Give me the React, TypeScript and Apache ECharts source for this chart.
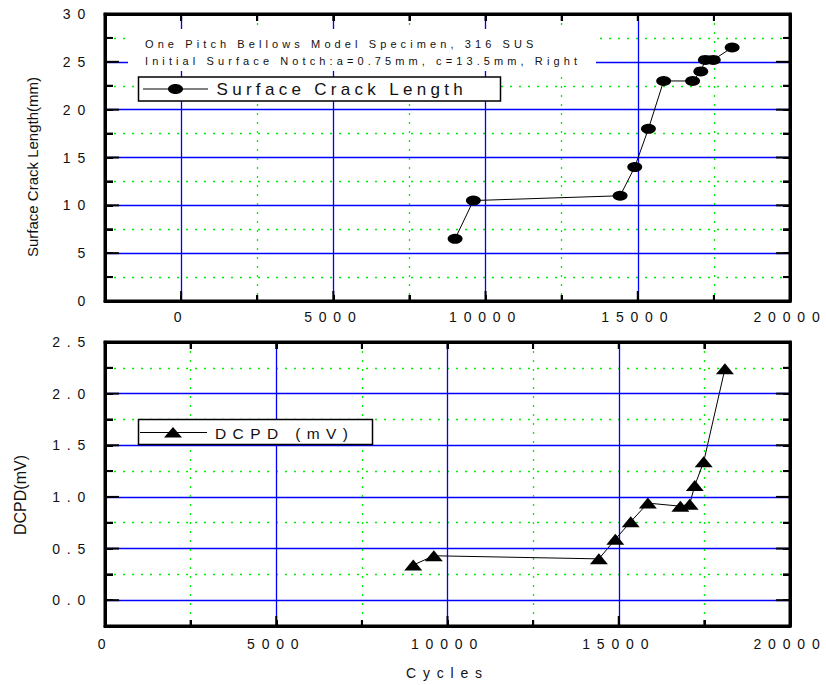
import React, { useEffect, useRef } from 'react';
import * as echarts from 'echarts';

// ---- data ----
const cycles = [9000, 9600, 14420, 14900, 15350, 15850, 16800, 17070, 17220, 17480, 18100];
const crackLength = [6.5, 10.5, 11.0, 14.0, 18.0, 23.0, 23.0, 24.0, 25.2, 25.2, 26.5];
const dcpd = [0.34, 0.43, 0.4, 0.59, 0.76, 0.94, 0.91, 0.93, 1.11, 1.34, 2.24];

// axis ranges / tick steps
const topXRange = [-2500, 20000];
const topYRange = [0, 30];
const botXRange = [0, 20000];
const botYRange = [-0.25, 2.5];
const xMinorStep = 2500;
const xMajorStep = 5000;
const topYMinorStep = 2.5;
const topYMajorStep = 5;
const botYMinorStep = 0.25;
const botYMajorStep = 0.5;

// texts
const annotationLines = [
  'One Pitch Bellows Model Specimen, 316 SUS',
  'Initial Surface Notch:a=0.75mm, c=13.5mm, Right',
];
const legendCrack = 'Surface Crack Length';
const legendDcpd = 'DCPD (mV)';
const yTitleTop = 'Surface Crack Length(mm)';
const yTitleBot = 'DCPD(mV)';
const xTitle = 'Cycles';

// ---- styling ----
const FONT = '"Liberation Sans", Arial, Helvetica, sans-serif';
const TXT = '#111';
const BLUE = '#0000ff';
const GREEN = '#00ee00';

const css = `
.lsbox text[style*="14px"] { letter-spacing: 6.8px; }
.lsbox text[style*="11px"] { letter-spacing: 4.1px; }
.lsbox text[style*="17px"] { letter-spacing: 4.3px; }
.lsbox text[style*="15.5px"] { letter-spacing: 6.4px; }
`;

const ticksOf = (min: number, max: number, step: number) => {
  const n = Math.round((max - min) / step);
  return Array.from({ length: n + 1 }, (_, i) => +(min + i * step).toFixed(6));
};
const isMult = (v: number, m: number) => Math.abs(v / m - Math.round(v / m)) < 1e-6;
const colorsFor = (ticks: number[], pred: (v: number) => boolean, color: string) =>
  ticks.map((v, i) => (i > 0 && i < ticks.length - 1 && pred(v) ? color : 'transparent'));

const tick = () => ({ color: '#000', width: 2 });
const frame = () => ({ show: true, onZero: false, lineStyle: { color: '#000', width: 3 } });

function buildAxes(
  dim: 'x' | 'y',
  range: number[],
  minor: number,
  major: number,
  label: any,
  name?: any
) {
  const ticks = ticksOf(range[0], range[1], minor);
  const pos = dim === 'x' ? ['bottom', 'top'] : ['left', 'right'];
  const base = { type: 'value', gridIndex: 0, min: range[0], max: range[1], interval: minor };
  return [
    {
      ...base,
      position: pos[0],
      ...(name || {}),
      axisLine: frame(),
      axisTick: { show: true, inside: true, length: dim === 'x' ? 6 : 8, lineStyle: tick() },
      axisLabel: label,
      splitLine: {
        show: true,
        lineStyle: { color: colorsFor(ticks, (v) => isMult(v, major), BLUE), width: 1.3 },
      },
    },
    {
      ...base,
      position: pos[1],
      axisLine: frame(),
      axisTick: { show: true, inside: true, length: 7, lineStyle: tick() },
      axisLabel: { show: false },
      splitLine: {
        show: true,
        lineStyle: { color: colorsFor(ticks, (v) => !isMult(v, major), GREEN), width: 1.3, type: [2, 7] },
      },
    },
  ];
}

const label = (margin: number, formatter: (v: number) => string) => ({
  color: TXT,
  fontSize: 14,
  fontFamily: FONT,
  margin,
  formatter,
});

const txt = (text: string, x: number, y: number, fontSize: number, extra: any = {}) => ({
  type: 'text',
  z: 11,
  x,
  y,
  ...(extra.rotation ? { rotation: extra.rotation } : {}),
  style: {
    text,
    fontSize,
    fontFamily: FONT,
    fill: TXT,
    align: extra.center ? 'center' : 'left',
    verticalAlign: 'middle',
    textAlign: extra.center ? 'center' : 'left',
    textVerticalAlign: 'middle',
  },
});

const lineSeries = (name: string, values: number[], symbol: string, size: number[]) => ({
  name,
  type: 'line',
  data: cycles.map((c, i) => [c, values[i]]),
  symbol,
  symbolSize: size,
  itemStyle: { color: '#000' },
  lineStyle: { color: '#000', width: 1 },
  z: 5,
});

// top chart: its own instance, page offset 0
const topGraphic: any[] = [
  { type: 'rect', z: 10, shape: { x: 128, y: 29, width: 468, height: 42 }, style: { fill: '#fff' } },
  txt(annotationLines[0], 145, 43.5, 11),
  txt(annotationLines[1], 145, 61, 11),
  {
    type: 'rect',
    z: 10,
    shape: { x: 138.5, y: 77, width: 362, height: 24 },
    style: { fill: '#fff', stroke: '#000', lineWidth: 1.5 },
  },
  { type: 'line', z: 11, shape: { x1: 143, y1: 89, x2: 208, y2: 89 }, style: { stroke: '#000', lineWidth: 1 } },
  { type: 'ellipse', z: 12, shape: { cx: 175.5, cy: 89, rx: 7.5, ry: 5 }, style: { fill: '#000' } },
  txt(legendCrack, 216.5, 89, 17),
  txt(yTitleTop, 32, 167, 15, { rotation: Math.PI / 2, center: true }),
];
const topOption: any = {
  animation: false,
  backgroundColor: '#fff',
  grid: [{ show: false, left: 105, width: 685, top: 14, height: 287 }],
  xAxis: buildAxes('x', topXRange, xMinorStep, xMajorStep,
    label(9, (v) => (v >= 0 && isMult(v, xMajorStep) ? String(v) : ''))),
  yAxis: buildAxes('y', topYRange, topYMinorStep, topYMajorStep,
    label(13, (v) => (isMult(v, topYMajorStep) ? String(v) : ''))),
  series: [lineSeries(legendCrack, crackLength, 'circle', [15, 10])],
  graphic: topGraphic,
};
const topSpec = { xr: topXRange, yr: topYRange, xs: xMinorStep, xm: xMajorStep, ys: topYMinorStep, ym: topYMajorStep };

// bottom chart: its own instance, page offset 330
const botGraphic: any[] = [
  {
    type: 'rect',
    z: 10,
    shape: { x: 138.5, y: 89.5, width: 234, height: 25 },
    style: { fill: '#fff', stroke: '#000', lineWidth: 1.5 },
  },
  { type: 'line', z: 11, shape: { x1: 140, y1: 102.5, x2: 207, y2: 102.5 }, style: { stroke: '#000', lineWidth: 1 } },
  { type: 'polygon', z: 12, shape: { points: [[164, 107.5], [182, 107.5], [173, 97]] }, style: { fill: '#000' } },
  txt(legendDcpd, 215, 103, 15.5),
  txt(yTitleBot, 20, 165, 16, { rotation: Math.PI / 2, center: true }),
];
const botOption: any = {
  animation: false,
  backgroundColor: '#fff',
  grid: [{ show: false, left: 105, width: 685, top: 12, height: 286 }],
  xAxis: buildAxes('x', botXRange, xMinorStep, xMajorStep,
    label(11, (v) => (isMult(v, xMajorStep) ? String(v) : '')),
    { name: xTitle, nameLocation: 'middle', nameGap: 40, nameTextStyle: { color: TXT, fontSize: 14, fontFamily: FONT } }),
  yAxis: buildAxes('y', botYRange, botYMinorStep, botYMajorStep,
    label(13, (v) => (v >= -1e-9 && isMult(v, botYMajorStep) ? Math.abs(v).toFixed(1) : ''))),
  series: [lineSeries(legendDcpd, dcpd, 'triangle', [18, 11])],
  graphic: botGraphic,
};
const botSpec = { xr: botXRange, yr: botYRange, xs: xMinorStep, xm: xMajorStep, ys: botYMinorStep, ym: botYMajorStep };

// frame and tick marks, positioned through the chart's own axes (convertToPixel)
function frameAndTicks(chart: any, s: any): any[] {
  const finder = { xAxisIndex: 0, yAxisIndex: 0 };
  const px = (x: number, y: number) => chart.convertToPixel(finder, [x, y]) as number[];
  const tl = px(s.xr[0], s.yr[1]);
  const br = px(s.xr[1], s.yr[0]);
  if (!tl || !br || !isFinite(tl[0]) || !isFinite(br[0])) return [];
  const out: any[] = [];
  const seg = (x1: number, y1: number, x2: number, y2: number) =>
    out.push({ type: 'line', z: 9, silent: true, shape: { x1, y1, x2, y2 }, style: { stroke: '#000', lineWidth: 2 } });
  ticksOf(s.xr[0], s.xr[1], s.xs).slice(1, -1).forEach((v: number) => {
    const x = px(v, s.yr[0])[0];
    const len = isMult(v, s.xm) ? 10 : 6;
    seg(x, br[1], x, br[1] - len);
    seg(x, tl[1], x, tl[1] + 7);
  });
  ticksOf(s.yr[0], s.yr[1], s.ys).slice(1, -1).forEach((v: number) => {
    const y = px(s.xr[0], v)[1];
    const major = isMult(v, s.ym);
    seg(tl[0], y, tl[0] + (major ? 14 : 8), y);
    seg(br[0], y, br[0] - (major ? 14 : 7), y);
  });
  out.push({
    type: 'rect',
    z: 9,
    silent: true,
    shape: { x: tl[0], y: tl[1], width: br[0] - tl[0], height: br[1] - tl[1] },
    style: { fill: 'none', stroke: '#000', lineWidth: 3 },
  });
  return out;
}

function Chart({ option, spec, top, height }: { option: any; spec: any; top: number; height: number }) {
  const ref = useRef<HTMLDivElement>(null);
  useEffect(() => {
    if (!ref.current) return;
    const chart = echarts.init(ref.current, null, { renderer: 'svg' });
    chart.setOption(option);
    try {
      const extra = frameAndTicks(chart, spec);
      if (extra.length) chart.setOption({ graphic: [...option.graphic, ...extra] });
    } catch (e) {
      // keep the base chart if the overlay cannot be computed
    }
    return () => chart.dispose();
  }, [option, spec]);
  return (
    <div
      ref={ref}
      className="lsbox"
      style={{ position: 'absolute', left: 0, top, width: 826, height }}
    />
  );
}

export default function App() {
  return (
    <>
      <style>{css}</style>
      <div style={{ position: 'absolute', left: 0, top: 0, width: 826, height: 685, background: '#fff' }}>
        <Chart option={topOption} spec={topSpec} top={0} height={330} />
        <Chart option={botOption} spec={botSpec} top={330} height={355} />
      </div>
    </>
  );
}
